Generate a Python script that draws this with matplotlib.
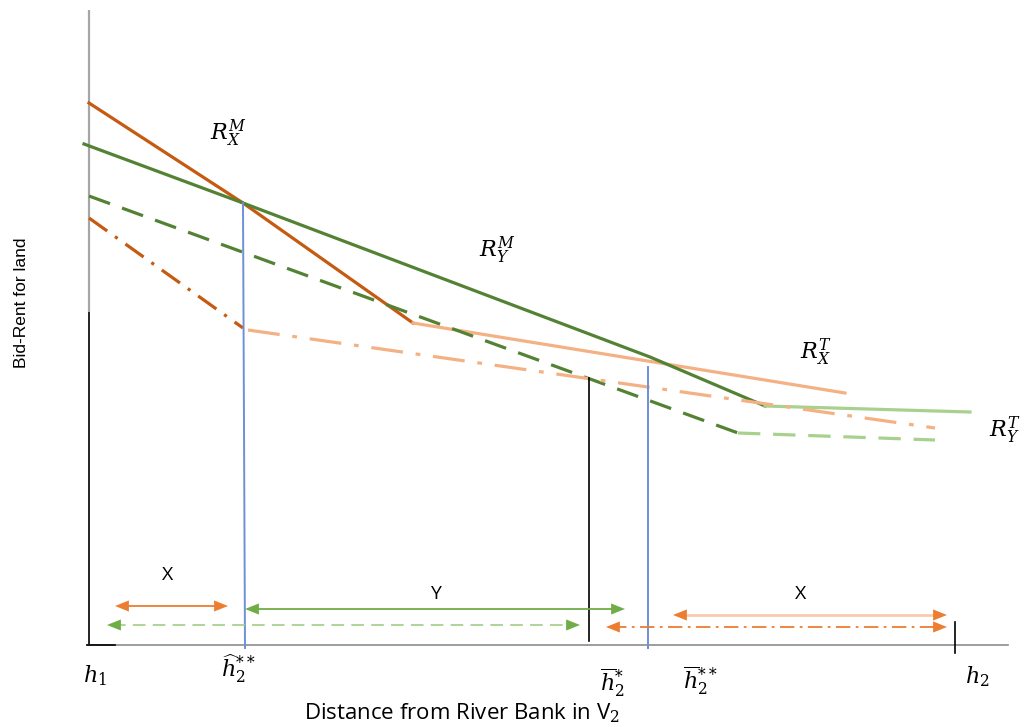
import matplotlib
matplotlib.use("Agg")
import matplotlib.pyplot as plt

plt.rcParams['mathtext.fontset'] = 'dejavuserif'

# ---- data (diagram coordinates, pixel-like units, y downward) ----
rxm_x = [89, 243, 413]; rxm_y = [103, 203, 323]          # R_X^M solid dark orange
rxt_x = [413, 845]; rxt_y = [323, 393]                    # R_X^T solid light orange
rym_x = [84, 243, 650, 765]; rym_y = [144, 203, 357, 406]  # R_Y^M solid green
ryt_x = [765, 970]; ryt_y = [406, 412]                    # R_Y^T solid light green
rym2_x = [89, 738]; rym2_y = [196, 433]                   # dashed green
ryt2_x = [738, 935]; ryt2_y = [433, 440]                  # dashed light green
rxm2_x = [89, 243]; rxm2_y = [218, 328]                   # dash-dot dark orange
rxt2_x = [248, 935]; rxt2_y = [330, 428]                  # dash-dot light orange

h2hat_x = 243; h2bar_star_x = 589; h2bar_ss_x = 648; h2_x = 955
axis_y = 645

fig = plt.figure(figsize=(10.27, 7.27), dpi=100)
ax = fig.add_axes([0, 0, 1, 1])
ax.set_xlim(0, 1027)
ax.set_ylim(727, 0)
ax.axis('off')

DARK_OR = '#c55a11'; LIGHT_OR = '#f4b183'; GREEN = '#548235'; LIGHT_GR = '#a9d18e'
OR = '#ed7d31'; GR = '#70ad47'; BLUE = '#6f8fd6'

# axes lines
ax.plot([89, 89], [10, 312], color='#a6a6a6', lw=1.6, solid_capstyle='butt')
ax.plot([89, 89], [312, axis_y], color='black', lw=1.2, solid_capstyle='butt')
ax.plot([87, 1008], [axis_y, axis_y], color='#8c8c8c', lw=1.2)
ax.plot([87, 115], [axis_y, axis_y], color='black', lw=1.2)

# bid rent curves
lw = 2.3
ax.plot(rxm_x, rxm_y, color=DARK_OR, lw=lw)
ax.plot(rxt_x, rxt_y, color=LIGHT_OR, lw=lw)
ax.plot(rym_x, rym_y, color=GREEN, lw=lw)
ax.plot(ryt_x, ryt_y, color=LIGHT_GR, lw=lw)
ax.plot(rym2_x, rym2_y, color=GREEN, lw=lw, dashes=(7, 4))
ax.plot(ryt2_x, ryt2_y, color=LIGHT_GR, lw=lw, dashes=(7, 4))
ax.plot(rxm2_x, rxm2_y, color=DARK_OR, lw=lw, dashes=(7, 3, 1, 3))
ax.plot(rxt2_x, rxt2_y, color=LIGHT_OR, lw=lw, dashes=(10, 4, 1.5, 4))

# vertical markers
ax.plot([h2hat_x, h2hat_x + 2], [203, 648], color=BLUE, lw=1.4)
ax.plot([h2bar_ss_x, h2bar_ss_x], [367, 648], color=BLUE, lw=1.4)
ax.plot([h2bar_star_x, h2bar_star_x], [378, 641], color='black', lw=1.2)
ax.plot([h2_x, h2_x], [622, 653], color='black', lw=1.2)

def arrow(x0, x1, y, lcolor, hcolor, ls='-', lwid=1.3):
    ax.plot([x0 + 6, x1 - 6], [y, y], color=lcolor, lw=lwid, linestyle=ls)
    for xe, xs in ((x0, x0 + 1), (x1, x1 - 1)):
        ax.annotate('', xy=(xe, y), xytext=(xs, y),
                    arrowprops=dict(arrowstyle='-|>,head_length=1.0,head_width=0.4',
                                    color=hcolor, lw=0, shrinkA=0, shrinkB=0,
                                    mutation_scale=10))

arrow(115, 228, 606, OR, OR)
arrow(245, 625, 609, GR, GR)
arrow(107, 580, 625, LIGHT_GR, GR, ls=(0, (7, 4)))
arrow(673, 947, 615, '#f8cbad', OR, lwid=2.0)
arrow(606, 947, 627, OR, OR, ls=(0, (8, 3, 1.5, 3)))

# region labels
tk = dict(fontsize=14, family='Open Sans', ha='center', va='center')
ax.text(168, 575, 'X', **tk)
ax.text(435, 594, 'Y', **tk)
ax.text(801, 594, 'X', **tk)

# curve labels
mk = dict(fontsize=16, ha='center', va='center')
ax.text(228, 133, r'$R_X^M$', **mk)
ax.text(497, 250, r'$R_Y^M$', **mk)
ax.text(816, 352, r'$R_X^T$', **mk)
ax.text(1005, 430, r'$R_Y^T$', **mk)

# x-position labels
ax.text(95, 676, r'$h_1$', **mk)
ax.text(238, 669, r'$\widehat{h}_2^{**}$', **mk)
ax.text(612, 683, r'$\overline{h}_2^{*}$', **mk)
ax.text(700, 681, r'$\overline{h}_2^{**}$', **mk)
ax.text(977, 677, r'$h_2$', **mk)

ax.text(462, 713, 'Distance from River Bank in V$_2$', fontsize=16,
        family='Open Sans', ha='center', va='center')
ax.text(22, 303, 'Bid-Rent for land', fontsize=12.5, rotation=90,
        family=['Liberation Sans Narrow', 'Liberation Sans'], ha='center', va='center')

fig.savefig('out.png', dpi=100)
